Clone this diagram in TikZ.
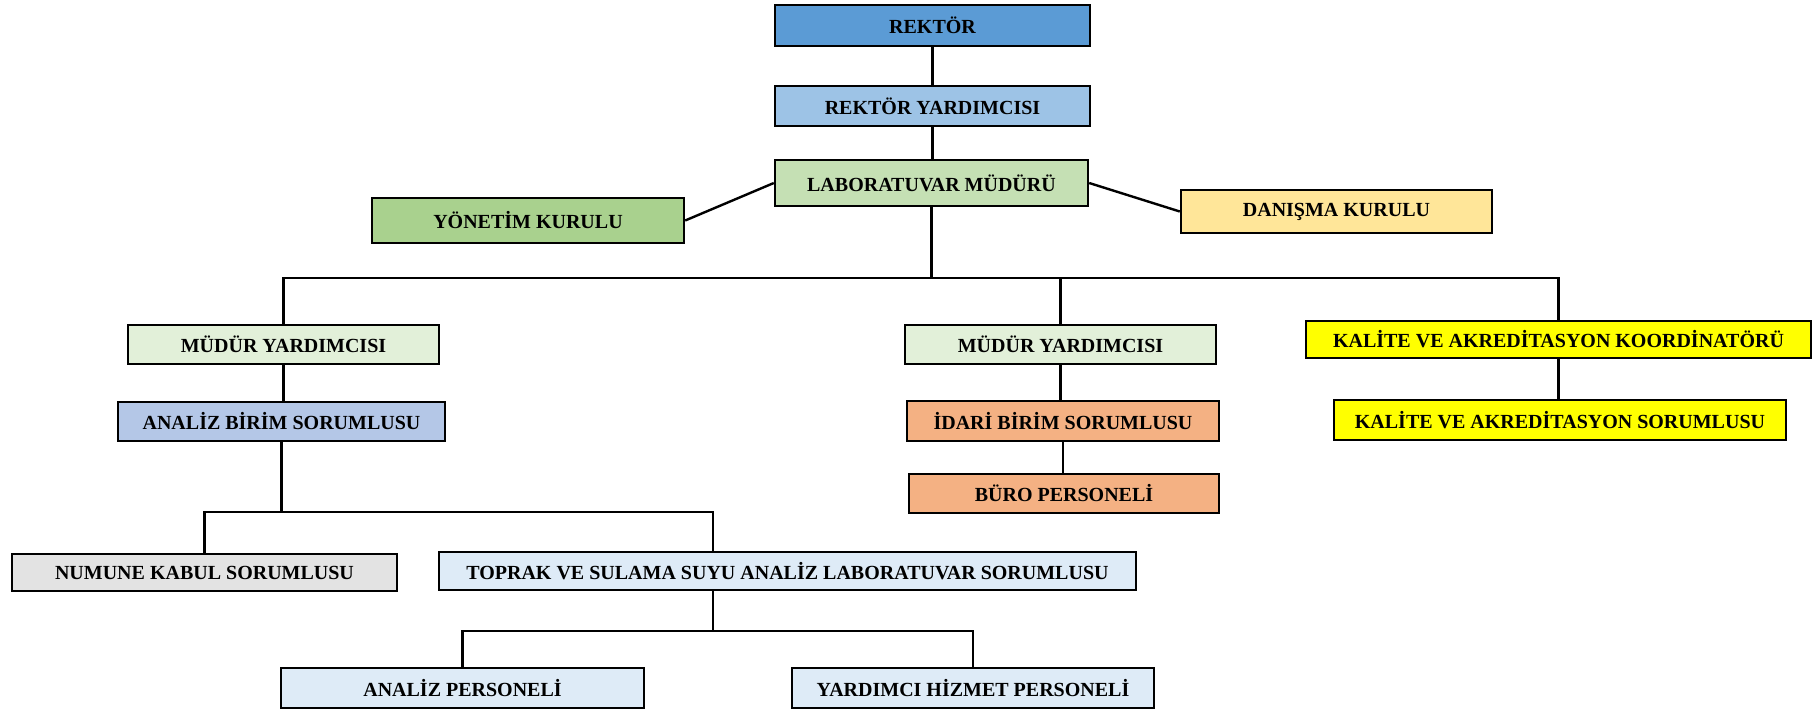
\documentclass[tikz,border=0pt]{standalone}
\usepackage{fontspec}
\setmainfont{Liberation Serif}
\definecolor{cRek}{HTML}{5B9BD5}
\definecolor{cRy}{HTML}{9DC3E6}
\definecolor{cLm}{HTML}{C5E0B4}
\definecolor{cYk}{HTML}{A9D18E}
\definecolor{cDk}{HTML}{FFE699}
\definecolor{cMy}{HTML}{E2F0D9}
\definecolor{cKal}{HTML}{FFFF00}
\definecolor{cAbs}{HTML}{B4C7E7}
\definecolor{cIdr}{HTML}{F4B183}
\definecolor{cNks}{HTML}{E3E3E3}
\definecolor{cLab}{HTML}{DEEBF7}
\begin{document}
\begin{tikzpicture}[x=0.5pt,y=-0.5pt,
  box/.style={draw=black,line width=1.2pt,inner sep=0pt,text=black,
    font=\fontsize{10}{12}\selectfont\bfseries},
  conn/.style={draw=black,line width=1.2pt}]
\useasboundingbox (0,0) rectangle (1812,713);
\fill[white] (0,0) rectangle (1812,713);
% boxes
\node[box,fill=cRek,minimum width=157.5pt,minimum height=20.5pt] (rek) at (932.5,25.5) {REKTÖR};
\node[box,fill=cRy,minimum width=157.5pt,minimum height=20pt] (ry) at (932.5,106) {REKTÖR YARDIMCISI};
\node[box,fill=cLm,minimum width=156.5pt,minimum height=23pt] (lm) at (931.5,183) {LABORATUVAR MÜDÜRÜ};
\node[box,fill=cYk,minimum width=156pt,minimum height=22.5pt] (yk) at (528,220.5) {YÖNETİM KURULU};
\node[box,fill=cDk,minimum width=155.5pt,minimum height=21.5pt] (dk) at (1336.5,211.5) {DANIŞMA KURULU};
\node[box,fill=cMy,minimum width=155.5pt,minimum height=19.5pt] (my1) at (283.5,344.5) {MÜDÜR YARDIMCISI};
\node[box,fill=cMy,minimum width=155.5pt,minimum height=19.5pt] (my2) at (1060.5,344.5) {MÜDÜR YARDIMCISI};
\node[box,fill=cKal,minimum width=252.5pt,minimum height=18.5pt] (kk) at (1558.5,339.5) {KALİTE VE AKREDİTASYON KOORDİNATÖRÜ};
\node[box,fill=cKal,minimum width=226pt,minimum height=20pt] (ks) at (1560,420) {KALİTE VE AKREDİTASYON SORUMLUSU};
\node[box,fill=cAbs,minimum width=163.5pt,minimum height=19.5pt] (abs) at (281.5,421.5) {ANALİZ BİRİM SORUMLUSU};
\node[box,fill=cIdr,minimum width=156pt,minimum height=20pt] (ibs) at (1063,421) {İDARİ BİRİM SORUMLUSU};
\node[box,fill=cIdr,minimum width=155pt,minimum height=19.5pt] (bp) at (1064,493.5) {BÜRO PERSONELİ};
\node[box,fill=cNks,minimum width=192.5pt,minimum height=18.5pt] (nks) at (204.5,572.5) {NUMUNE KABUL SORUMLUSU};
\node[box,fill=cLab,minimum width=348.5pt,minimum height=19pt] (top) at (787.5,571) {TOPRAK VE SULAMA SUYU ANALİZ LABORATUVAR SORUMLUSU};
\node[box,fill=cLab,minimum width=181.5pt,minimum height=20pt] (ap) at (462.5,688) {ANALİZ PERSONELİ};
\node[box,fill=cLab,minimum width=181pt,minimum height=20pt] (yhp) at (973,688) {YARDIMCI HİZMET PERSONELİ};
% connectors
\coordinate (bus) at (283.5,278);
\coordinate (b2) at (713,512);
\coordinate (b3) at (713,631);
\draw[conn] (rek.south) -- (rek.south |- ry.north);
\draw[conn] (ry.south) -- (ry.south |- lm.north);
\draw[conn] (lm.west) -- (yk.east);
\draw[conn] (lm.east) -- (dk.west);
\draw[conn] (lm.south) -- (lm.south |- bus);
\draw[conn] (my1.north) -- (my1.north |- bus) -- (kk.north |- bus) -- (kk.north);
\draw[conn] (my2.north) -- (my2.north |- bus);
\draw[conn] (kk.south) -- (kk.south |- ks.north);
\draw[conn] (my1.south) -- (my1.south |- abs.north);
\draw[conn] (my2.south) -- (my2.south |- ibs.north);
\draw[conn] (ibs.south) -- (ibs.south |- bp.north);
\draw[conn] (abs.south) -- (abs.south |- b2);
\draw[conn] (nks.north) -- (nks.north |- b2) -- (b2) -- (b2 |- top.north);
\draw[conn] (top.south -| b3) -- (b3);
\draw[conn] (ap.north) -- (ap.north |- b3) -- (yhp.north |- b3) -- (yhp.north);
\end{tikzpicture}
\end{document}
